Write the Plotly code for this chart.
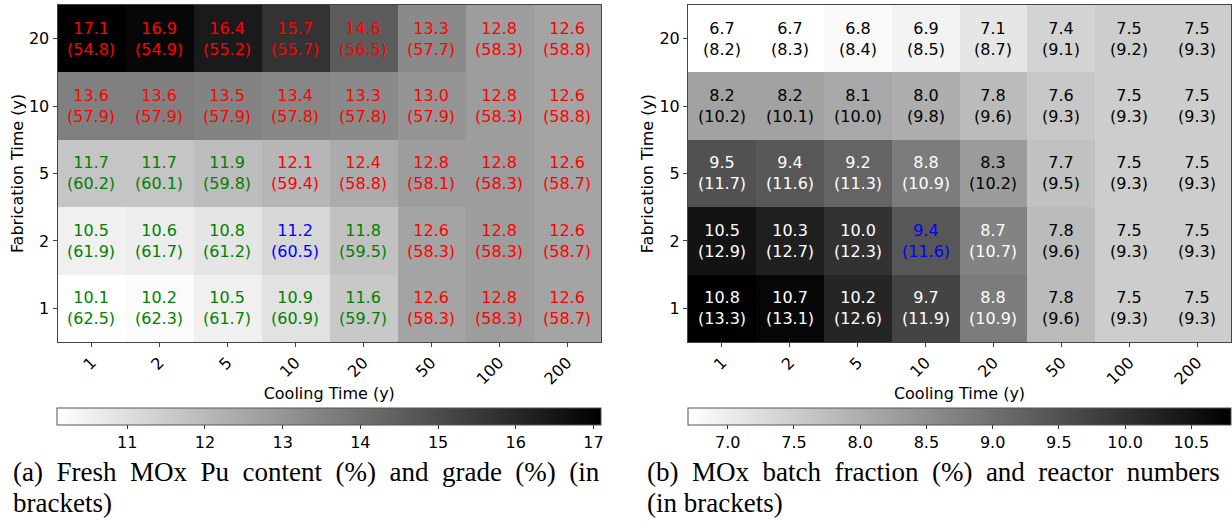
import plotly.graph_objects as go

cooling = ["1", "2", "5", "10", "20", "50", "100", "200"]
fabrication = ["1", "2", "5", "10", "20"]

pu_content = [
    [10.1, 10.2, 10.5, 10.9, 11.6, 12.6, 12.8, 12.6],
    [10.5, 10.6, 10.8, 11.2, 11.8, 12.6, 12.8, 12.6],
    [11.7, 11.7, 11.9, 12.1, 12.4, 12.8, 12.8, 12.6],
    [13.6, 13.6, 13.5, 13.4, 13.3, 13.0, 12.8, 12.6],
    [17.1, 16.9, 16.4, 15.7, 14.6, 13.3, 12.8, 12.6],
]
pu_grade = [
    [62.5, 62.3, 61.7, 60.9, 59.7, 58.3, 58.3, 58.7],
    [61.9, 61.7, 61.2, 60.5, 59.5, 58.3, 58.3, 58.7],
    [60.2, 60.1, 59.8, 59.4, 58.8, 58.1, 58.3, 58.7],
    [57.9, 57.9, 57.9, 57.8, 57.8, 57.9, 58.3, 58.8],
    [54.8, 54.9, 55.2, 55.7, 56.5, 57.7, 58.3, 58.8],
]
batch_fraction = [
    [10.8, 10.7, 10.2, 9.7, 8.8, 7.8, 7.5, 7.5],
    [10.5, 10.3, 10.0, 9.4, 8.7, 7.8, 7.5, 7.5],
    [9.5, 9.4, 9.2, 8.8, 8.3, 7.7, 7.5, 7.5],
    [8.2, 8.2, 8.1, 8.0, 7.8, 7.6, 7.5, 7.5],
    [6.7, 6.7, 6.8, 6.9, 7.1, 7.4, 7.5, 7.5],
]
reactor_numbers = [
    [13.3, 13.1, 12.6, 11.9, 10.9, 9.6, 9.3, 9.3],
    [12.9, 12.7, 12.3, 11.6, 10.7, 9.6, 9.3, 9.3],
    [11.7, 11.6, 11.3, 10.9, 10.2, 9.5, 9.3, 9.3],
    [10.2, 10.1, 10.0, 9.8, 9.6, 9.3, 9.3, 9.3],
    [8.2, 8.3, 8.4, 8.5, 8.7, 9.1, 9.2, 9.3],
]
highlight = ("10", "2")  # (cooling, fabrication) cell shown in blue

caption_a = ["(a) Fresh MOx Pu content (%) and grade (%) (in", "brackets)"]
caption_b = ["(b) MOx batch fraction (%) and reactor numbers", "(in brackets)"]

W, H = 1232, 522
greys = [[0, "#ffffff"], [1, "#000000"]]
FONT = "DejaVu Sans"

def px_x(p):
    return p / W

def px_y(p):
    return 1 - p / H

left_dom = [px_x(57.5), px_x(601)]
right_dom = [px_x(688), px_x(1231)]
y_dom = [px_y(342), px_y(5)]

def cbar(dom, tickvals, ticktext):
    return dict(orientation="h", x=sum(dom) / 2, xanchor="center",
                len=(dom[1] - dom[0]), lenmode="fraction",
                y=px_y(408), yanchor="top", thickness=17, xpad=0, ypad=0,
                outlinecolor="#555555", outlinewidth=1,
                ticks="outside", ticklen=4, tickcolor="#333333",
                tickvals=tickvals, ticktext=ticktext,
                tickfont=dict(family=FONT, size=16, color="#000000"))

fig = go.Figure()
fig.add_trace(go.Heatmap(
    z=pu_content, x=cooling, y=fabrication, colorscale=greys,
    xaxis="x", yaxis="y", hoverinfo="skip",
    colorbar=cbar(left_dom, [11, 12, 13, 14, 15, 16, 17],
                  ["11", "12", "13", "14", "15", "16", "17"]),
))
fig.add_trace(go.Heatmap(
    z=batch_fraction, x=cooling, y=fabrication, colorscale=greys,
    xaxis="x2", yaxis="y2", hoverinfo="skip",
    colorbar=cbar(right_dom, [7.0, 7.5, 8.0, 8.5, 9.0, 9.5, 10.0, 10.5],
                  ["7.0", "7.5", "8.0", "8.5", "9.0", "9.5", "10.0", "10.5"]),
))

annotations = []
for i, fab in enumerate(fabrication):
    for j, cool in enumerate(cooling):
        c = pu_content[i][j]
        if (cool, fab) == highlight:
            col = "#0000ff"
        elif c < 12:
            col = "#008000"
        else:
            col = "#ff0000"
        annotations.append(dict(
            x=j, y=i, xref="x", yref="y", showarrow=False,
            text=f"{c:.1f}<br>({pu_grade[i][j]:.1f})",
            font=dict(family=FONT, size=16, color=col)))
        b = batch_fraction[i][j]
        if (cool, fab) == highlight:
            col2 = "#0000ff"
        elif b > 8.5:
            col2 = "#ffffff"
        else:
            col2 = "#000000"
        annotations.append(dict(
            x=j, y=i, xref="x2", yref="y2", showarrow=False,
            text=f"{b:.1f}<br>({reactor_numbers[i][j]:.1f})",
            font=dict(family=FONT, size=16, color=col2)))

cap_font = dict(family="Liberation Serif", size=27, color="#000000")

def cap(text, x, y, gap):
    return dict(x=px_x(x), y=px_y(y), xref="paper", yref="paper", xanchor="left",
                yanchor="middle", showarrow=False, font=cap_font,
                text=text.replace(" ", gap))

annotations += [
    cap(caption_a[0], 11, 472, "\u2002"),
    cap(caption_a[1], 11, 503, " "),
    cap(caption_b[0], 645, 472, "\u2002"),
    cap(caption_b[1], 645, 503, " "),
]

axis_common = dict(type="category", showline=True, mirror=True, linecolor="#444444",
                   linewidth=1, ticks="outside", ticklen=4, tickcolor="#444444",
                   tickfont=dict(family=FONT, size=16, color="#000000"),
                   showgrid=False, zeroline=False, fixedrange=True)

title_font = dict(family=FONT, size=16, color="#000000")
fig.update_layout(
    width=W, height=H, margin=dict(l=0, r=0, t=0, b=0),
    paper_bgcolor="white", plot_bgcolor="white", showlegend=False,
    xaxis=dict(domain=left_dom, anchor="y", tickangle=-45,
               title=dict(text="Cooling Time (y)", font=title_font, standoff=0),
               **axis_common),
    yaxis=dict(domain=y_dom, anchor="x",
               title=dict(text="Fabrication Time (y)", font=title_font, standoff=1),
               **axis_common),
    xaxis2=dict(domain=right_dom, anchor="y2", tickangle=-45,
                title=dict(text="Cooling Time (y)", font=title_font, standoff=0),
                **axis_common),
    yaxis2=dict(domain=y_dom, anchor="x2",
                title=dict(text="Fabrication Time (y)", font=title_font, standoff=1),
                **axis_common),
    annotations=annotations,
)

fig.write_html("out.html")
